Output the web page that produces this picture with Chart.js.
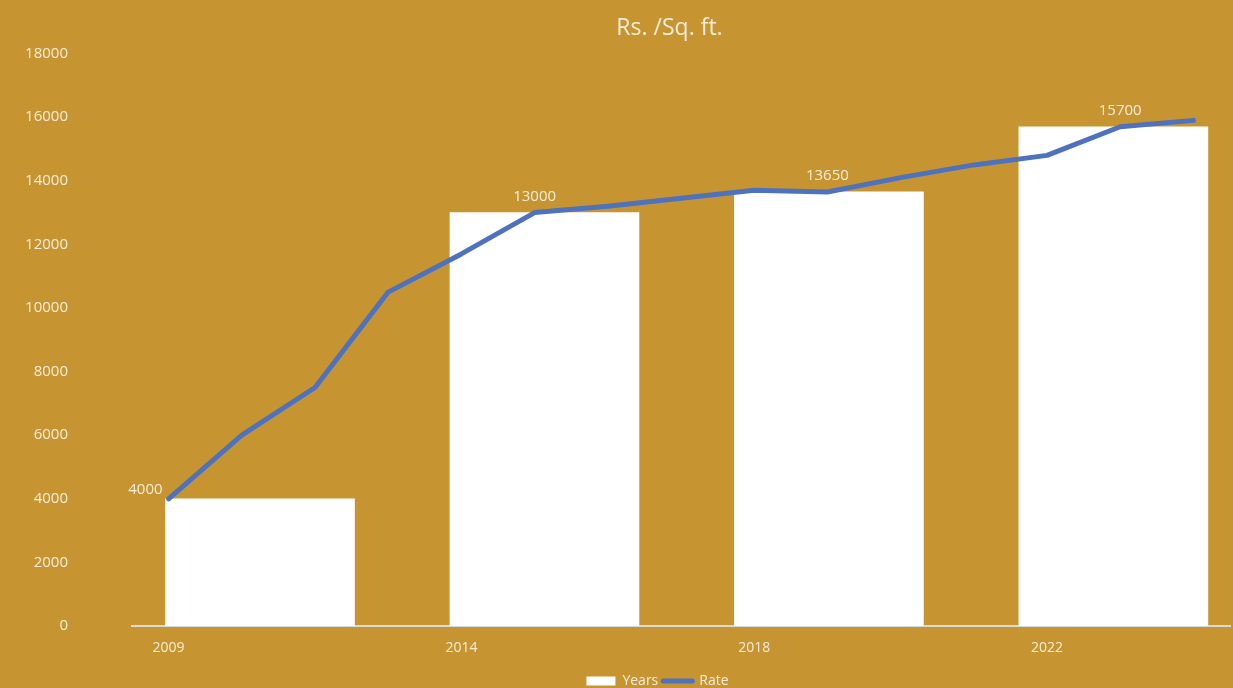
<!DOCTYPE html>
<html>
<head>
<meta charset="utf-8">
<script src="https://cdn.jsdelivr.net/npm/chart.js@4/dist/chart.umd.min.js"></script>
<style>
  html, body { margin: 0; padding: 0; background: #c69532; }
  #wrap { width: 1233px; height: 688px; position: relative; }
</style>
</head>
<body>
<div id="wrap"><canvas id="rateChart"></canvas></div>
<script>
// line categories: only every 4th one carries a visible label
const rateLabels = ["2009", "", "", "", "2014", "", "", "", "2018", "", "", "", "2022", "", ""];
const rateValues = [4000, 6000, 7500, 10500, 11700, 13000, 13200, 13450, 13700, 13650, 14100, 14500, 14800, 15700, 15900];
const labelledPoints = [0, 5, 9, 13];

const barYears = ["2009", "2014", "2018", "2022"];
const barValues = [4000, 13000, 13650, 15700];

const yTicks = [0, 2000, 4000, 6000, 8000, 10000, 12000, 14000, 16000, 18000];

const cream = "#f6ecd8";
const fontFam = "'Open Sans', sans-serif";

// draws the value text next to selected line points
const pointLabels = {
  id: "pointLabels",
  afterDatasetsDraw(chart) {
    const meta = chart.getDatasetMeta(1);
    const ctx = chart.ctx;
    ctx.save();
    ctx.font = `15px ${fontFam}`;
    ctx.fillStyle = cream;
    ctx.textBaseline = "middle";
    labelledPoints.forEach((i, n) => {
      const pt = meta.data[i];
      if (n === 0) {
        ctx.textAlign = "right";
        ctx.fillText(String(rateValues[i]), pt.x - 6, pt.y - 9);
      } else {
        ctx.textAlign = "center";
        ctx.fillText(String(rateValues[i]), pt.x, pt.y - 16);
      }
    });
    ctx.restore();
  },
};

// title and legend sit a bit right of the canvas centre in the original
const nudgeBoxes = {
  id: "nudgeBoxes",
  afterLayout(chart) {
    if (chart.titleBlock) {
      chart.titleBlock.left += 42;
      chart.titleBlock.right += 42;
    }
    if (chart.legend) {
      chart.legend.left += 30;
      chart.legend.right += 30;
    }
  },
};

new Chart(document.getElementById("rateChart"), {
  data: {
    labels: rateLabels,
    datasets: [
      {
        type: "bar",
        label: "Years",
        data: barValues.map((v, i) => ({ x: i, y: v, year: barYears[i] })),
        xAxisID: "xBar",
        backgroundColor: "#ffffff",
        borderWidth: 0,
        grouped: false,
        barThickness: 189,
        order: 2,
      },
      {
        type: "line",
        label: "Rate",
        data: rateValues,
        xAxisID: "x",
        borderColor: "#4f72bf",
        borderWidth: 5,
        borderCapStyle: "round",
        borderJoinStyle: "round",
        pointRadius: 0,
        tension: 0,
        order: 1,
      },
    ],
  },
  options: {
    responsive: true,
    maintainAspectRatio: false,
    animation: false,
    layout: { padding: { left: 25, right: 3, top: 0, bottom: -10 } },
    plugins: {
      title: {
        display: true,
        text: "Rs. /Sq. ft.",
        color: cream,
        font: { family: fontFam, size: 23, weight: "normal" },
        padding: { top: 15, bottom: 11 },
      },
      legend: {
        position: "bottom",
        title: { display: true, text: "", font: { size: 5 }, padding: { top: 0, bottom: 6 } },
        labels: {
          color: cream,
          font: { family: fontFam, size: 14 },
          usePointStyle: true,
          pointStyleWidth: 29,
          boxHeight: 9,
          padding: 5,
          generateLabels(chart) {
            return chart.data.datasets.map((ds, i) => ({
              text: ds.label,
              datasetIndex: i,
              fontColor: cream,
              fillStyle: ds.type === "bar" ? "#ffffff" : ds.borderColor,
              strokeStyle: ds.type === "bar" ? "#ffffff" : ds.borderColor,
              lineWidth: ds.type === "bar" ? 0 : 5,
              lineCap: "round",
              pointStyle: ds.type === "bar" ? "rect" : "line",
              hidden: false,
            }));
          },
        },
      },
      tooltip: { enabled: false },
    },
    scales: {
      x: {
        type: "category",
        offset: true,
        grid: { display: false, drawTicks: false },
        border: { display: true, color: "#d9d9d9", width: 2 },
        ticks: {
          color: cream,
          font: { family: fontFam, size: 14 },
          autoSkip: false,
          maxRotation: 0,
          padding: 14,
        },
        afterFit(axis) {
          axis.height = 31;
        },
      },
      // hidden axis that spreads the four bars the way the original does
      xBar: {
        type: "linear",
        min: -0.45,
        max: 3.41,
        offset: false,
        display: false,
        afterFit(axis) {
          axis.height = 0;
        },
      },
      y: {
        min: 0,
        max: 18000,
        afterBuildTicks(axis) {
          axis.ticks = yTicks.map((v) => ({ value: v }));
        },
        afterFit(axis) {
          // labels sit far left of the plot; keep the gap out of the vertical margins
          axis.width = 107;
          axis.paddingTop = 9;
          axis.paddingBottom = 9;
        },
        grid: { display: false, drawTicks: false },
        border: { display: false },
        ticks: {
          color: cream,
          font: { family: fontFam, size: 15 },
          padding: 64,
          callback: (v) => String(v),
        },
      },
    },
  },
  plugins: [pointLabels, nudgeBoxes],
});
</script>
</body>
</html>
